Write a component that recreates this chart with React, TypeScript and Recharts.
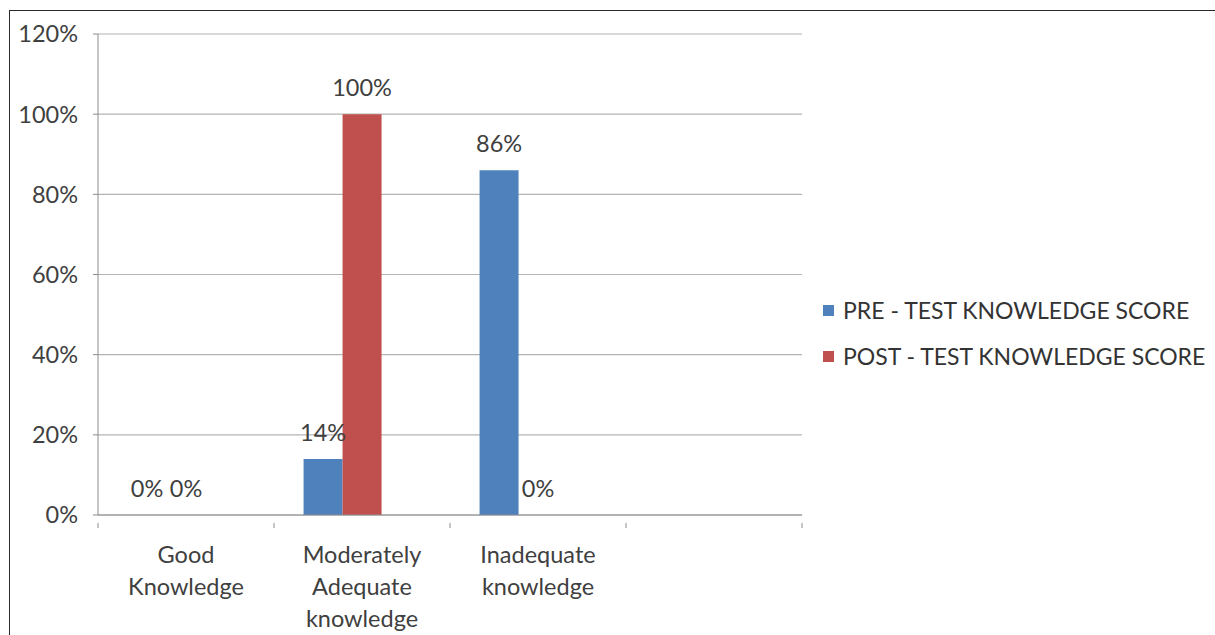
import { BarChart, Bar, XAxis, YAxis, CartesianGrid, LabelList } from 'recharts'

const categories = ['Good Knowledge', 'Moderately Adequate knowledge', 'Inadequate knowledge', '']
const preScores = [0, 14, 86, null]
const postScores = [0, 100, 0, null]
// the original sheet has a third, empty series that still takes a bar slot
const emptyScores = [null, null, null, null]
const yTicks = [0, 20, 40, 60, 80, 100, 120]

const series = [
  { key: 'pre', name: 'PRE - TEST KNOWLEDGE SCORE', color: '#4f81bd', legend: true },
  { key: 'post', name: 'POST - TEST KNOWLEDGE SCORE', color: '#c0504d', legend: true },
  { key: 'blank', name: '', color: '#9bbb59', legend: false },
]

const data = categories.map((c, i) => ({
  name: c, pre: preScores[i], post: postScores[i], blank: emptyScores[i],
}))

const font = 'Lato, "Open Sans", sans-serif'
const textColor = '#404040'
const axisColor = '#8c8c8c'
const fs = 23.5
const lastIndex = categories.length - 1

const CategoryTick = (props: any) => {
  const { x, y, payload, index } = props
  const half = payload.offset || 0
  const words = String(payload.value).split(' ').filter(Boolean)
  return (
    <g>
      <line x1={x - half} x2={x - half} y1={y} y2={y + 5} stroke={axisColor} />
      {index === lastIndex && (
        <line x1={x + half} x2={x + half} y1={y} y2={y + 5} stroke={axisColor} />
      )}
      <text x={x} y={y + 40} textAnchor="middle" fill={textColor} fontSize={fs} fontFamily={font}>
        {words.map((w, i) => (
          <tspan key={i} x={x} dy={i === 0 ? 0 : 32}>{w}</tspan>
        ))}
      </text>
    </g>
  )
}

const pct = (v: any) => (v === null || v === undefined ? '' : `${v}%`)

export default function App() {
  return (
    <div style={{ position: 'absolute', left: 0, top: 0, width: 1215, height: 635, background: '#fff', fontFamily: font }}>
      <div style={{
        position: 'absolute', left: 9, top: 10, right: 0, bottom: 0,
        borderTop: '1.5px solid #2a2a2a', borderLeft: '1.5px solid #2a2a2a'
      }} />
      <div style={{ position: 'absolute', left: 0, top: 0 }}>
        <BarChart
          width={1215}
          height={635}
          data={data}
          margin={{ top: 34, right: 413, bottom: 0, left: 0 }}
          barCategoryGap="16.8%"
          barGap={0}
        >
          <CartesianGrid vertical={false} stroke="#b4b4b4" strokeWidth={1.2} />
          <XAxis
            dataKey="name"
            height={120}
            interval={0}
            axisLine={{ stroke: axisColor }}
            tickLine={false}
            tick={<CategoryTick />}
          />
          <YAxis
            width={98}
            domain={[0, 120]}
            ticks={yTicks}
            interval={0}
            tickFormatter={(v) => `${v}%`}
            axisLine={{ stroke: axisColor }}
            tickLine={{ stroke: axisColor }}
            tickSize={5}
            tickMargin={15}
            tick={{ fill: textColor, fontSize: fs, fontFamily: font }}
          />
          {series.map((s) => (
            <Bar
              key={s.key}
              dataKey={s.key}
              name={s.name}
              fill={s.color}
              minPointSize={0.01}
              isAnimationActive={false}
            >
              <LabelList
                dataKey={s.key}
                position="top"
                offset={18}
                formatter={pct}
                fill={textColor}
                fontSize={fs}
                fontFamily={font}
              />
            </Bar>
          ))}
        </BarChart>
      </div>
      <div style={{ position: 'absolute', left: 823, top: 294 }}>
        {series.filter((s) => s.legend).map((s) => (
          <div key={s.key} style={{ display: 'flex', alignItems: 'center', height: 32, marginBottom: 14 }}>
            <div style={{ width: 11, height: 11, background: s.color, marginRight: 9 }} />
            <span style={{ fontSize: 23, color: '#333', whiteSpace: 'nowrap' }}>{s.name}</span>
          </div>
        ))}
      </div>
    </div>
  )
}
